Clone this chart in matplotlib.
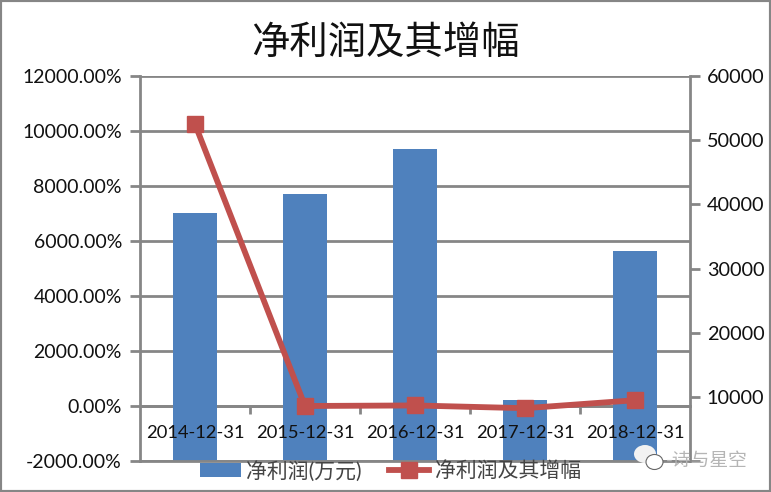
import numpy as np
import matplotlib
matplotlib.use("Agg")
import matplotlib.pyplot as plt
from matplotlib.patches import Ellipse, Rectangle

plt.rcParams["font.family"] = ["Lato", "Noto Sans CJK SC", "DejaVu Sans"]

# Data
dates = ["2014-12-31", "2015-12-31", "2016-12-31", "2017-12-31", "2018-12-31"]
profit = [38650, 41600, 48600, 9500, 32700]
growth = [10250, 0, 20, -80, 210]
left_ticks = [-2000, 0, 2000, 4000, 6000, 8000, 10000, 12000]
right_ticks = [0, 10000, 20000, 30000, 40000, 50000, 60000]

GREY = "#868686"
BLUE = "#4f81bd"
RED = "#c0504d"
W, H = 771, 492

fig = plt.figure(figsize=(W / 100, H / 100), dpi=100)
rect = [140 / W, 1 - 461 / H, 550 / W, 385 / H]
x = np.arange(len(dates))

# Grid and left axis at the back
ax = fig.add_axes(rect)
ax.set_xlim(-0.5, 4.5)
ax.set_ylim(-2000, 12000)
ax.set_yticks(left_ticks)
ax.set_yticklabels([f"{v:.2f}%" for v in left_ticks], fontsize=14, color="#111111")
ax.grid(axis="y", color=GREY, linewidth=2)
ax.set_axisbelow(True)
ax.tick_params(axis="y", length=7, width=2, color=GREY, pad=6)
ax.spines["top"].set_visible(False)
ax.spines["right"].set_visible(False)
ax.spines["left"].set_color(GREY)
ax.spines["left"].set_linewidth(2)
ax.spines["bottom"].set_position(("data", 0))
ax.spines["bottom"].set_color(GREY)
ax.spines["bottom"].set_linewidth(2)
ax.set_xticks(x[:-1] + 0.5)
ax.set_xticklabels([])
ax.tick_params(axis="x", length=6, width=2, color=GREY)

# Bars on the right axis
ax2 = ax.twinx()
ax2.set_ylim(0, 60000)
ax2.bar(x, profit, width=0.4, color=BLUE, label="净利润(万元)")
ax2.set_yticks(right_ticks)
ax2.set_yticklabels([""] + [str(v) for v in right_ticks[1:]], fontsize=14.3, color="#111111")
ax2.tick_params(axis="y", length=7, width=2, color=GREY, pad=5)
for name in ["top", "left", "bottom"]:
    ax2.spines[name].set_visible(False)
ax2.spines["right"].set_color(GREY)
ax2.spines["right"].set_linewidth(2)

# Line and date labels on top of the bars
ax3 = fig.add_axes(rect, sharex=ax)
ax3.patch.set_alpha(0)
ax3.set_ylim(-2000, 12000)
ax3.plot(x, growth, color=RED, linewidth=4.2, marker="s", markersize=11.5,
         markerfacecolor=RED, markeredgecolor=RED, label="净利润及其增幅")
ax3.axhline(-2000, color=GREY, linewidth=2, clip_on=False)
ax3.set_yticks([])
for name in ax3.spines:
    ax3.spines[name].set_visible(False)
for i, d in enumerate(dates):
    ax3.text(x[i], -1000, d, ha="center", va="center", fontsize=13.2, color="#111111")
ax3.tick_params(axis="x", length=0, labelbottom=False)

fig.text(385.5 / W, 1 - 43 / H, "净利润及其增幅", ha="center", va="center", fontsize=27.6, color="#111111")

handles = ax2.get_legend_handles_labels()[0] + ax3.get_legend_handles_labels()[0]
labels = ax2.get_legend_handles_labels()[1] + ax3.get_legend_handles_labels()[1]
fig.legend(handles, labels, ncols=2, frameon=False, fontsize=15, loc="center",
           bbox_to_anchor=(390.5 / W, 1 - 471 / H), handlelength=1.95, handletextpad=0.25,
           columnspacing=1.3, labelcolor="#444444", borderpad=0)

# Watermark
px = fig.transFigure
fig.add_artist(Ellipse((645 / W, 1 - 454 / H), 22 / W, 18 / H, transform=px, fc="#f2f2f2", ec="none"))
fig.add_artist(Ellipse((654.5 / W, 1 - 462 / H), 17 / W, 15 / H, transform=px, fc="white", ec="#666666", lw=0.8))
fig.text(666 / W, 1 - 460 / H, "-诗与星空", ha="left", va="center", fontsize=13.5,
         color="#b5b5b5")

# Grey outer frame
fig.add_artist(Rectangle((0, 0), 1, 1, transform=px, fill=False, ec=GREY, lw=3))

fig.savefig("out.png", dpi=100)
